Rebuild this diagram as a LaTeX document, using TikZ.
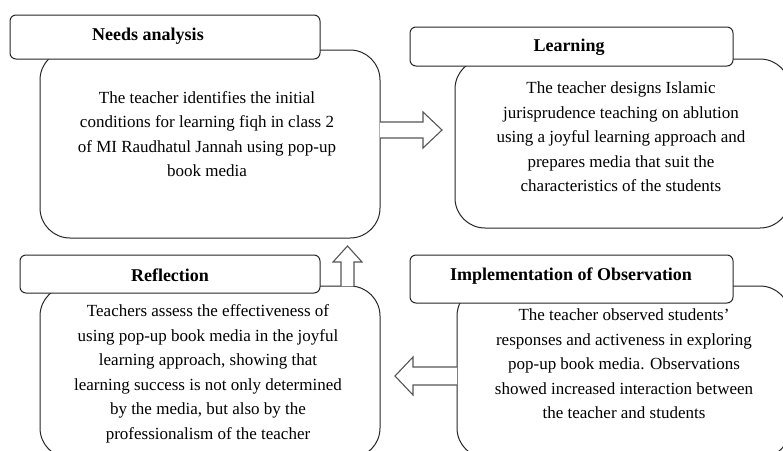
\documentclass[tikz,border=0pt]{standalone}
\usepackage{fontspec}
\setmainfont{Liberation Serif}
\begin{document}
\begin{tikzpicture}[x=1pt,y=-1pt,
  bodybox/.style={draw=black!85,line width=1pt,rounded corners=30pt,fill=white},
  titlebox/.style={draw=black!85,line width=1pt,rounded corners=6pt,fill=white},
  blockarrow/.style={draw={rgb,255:red,85;green,85;blue,85},line width=1.1pt,fill=white,line join=miter},
  bodytext/.style={align=center,inner sep=0pt,font=\fontsize{17}{24.5}\selectfont},
  titletext/.style={inner sep=0pt,font=\fontsize{18}{22}\selectfont\bfseries}]
\useasboundingbox (0,0) rectangle (783,450);
\begin{scope}
\clip (0,0) rectangle (783,450);
% body boxes
\draw[bodybox] (40,50) rectangle (380,238);
\draw[bodybox] (455,59) rectangle (790,228);
\draw[bodybox] (40,286) rectangle (380,458);
\draw[bodybox] (457,286) rectangle (790,458);
% title boxes
\draw[titlebox] (10,15) rectangle (320,59);
\draw[titlebox] (410,27) rectangle (733,66);
\draw[titlebox] (20,255) rectangle (320,293);
\draw[titlebox] (410,255) rectangle (733,303);
% titles
\node[titletext] (tneeds) at (148,36) {Needs analysis};
\node[titletext] (tlearn) at (569,47) {Learning};
\node[titletext] (trefl) at (170,275) {Reflection};
\node[titletext] (timpl) at (571,276) {Implementation of Observation};
% body texts
\node[bodytext] (xneeds) at (207,134) {The teacher identifies the initial\\conditions for learning fiqh in class 2\\of MI Raudhatul Jannah using pop-up\\book media};
\node[bodytext] (xlearn) at (621,137) {The teacher designs Islamic\\jurisprudence teaching on ablution\\using a joyful learning approach and\\prepares media that suit the\\characteristics of the students};
\begin{scope}
\clip (40,286) rectangle (380,442);
\node[bodytext] (xrefl) at (208,374) {Teachers assess the effectiveness of\\using pop-up book media in the joyful\\learning approach, showing that\\learning success is not only determined\\by the media, but also by the\\professionalism of the teacher};
\end{scope}
\node[bodytext] (ximpl) at (624,364) {The teacher observed students’\\responses and activeness in exploring\\pop-up book media. Observations\\showed increased interaction between\\the teacher and students};
% block arrows
\draw[blockarrow] (380,122) -- (423,122) -- (423,112) -- (442,130) -- (423,148) -- (423,138) -- (380,138);
\draw[blockarrow] (341,286) -- (341,262) -- (333,262) -- (347.5,246) -- (362,262) -- (354,262) -- (354,286);
\draw[blockarrow] (457,367) -- (413,367) -- (413,357) -- (395,376) -- (413,395) -- (413,385) -- (457,385);
\end{scope}
\end{tikzpicture}
\end{document}
